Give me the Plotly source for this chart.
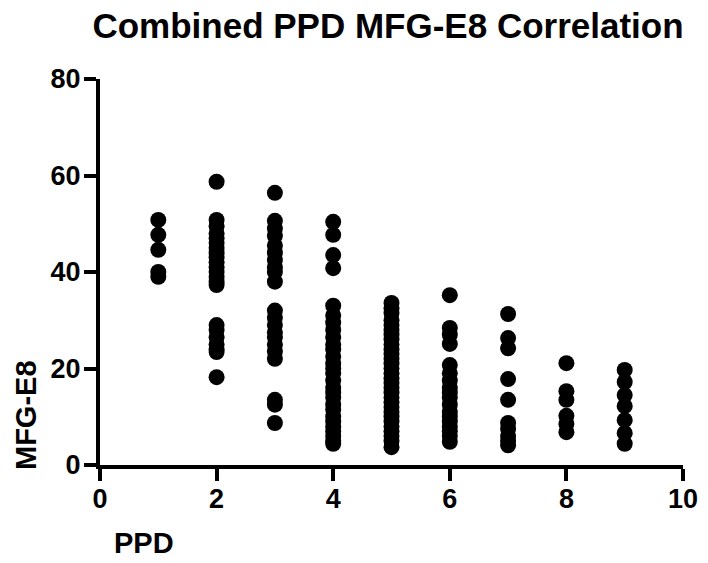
import plotly.graph_objects as go

# MFG-E8 values per PPD category
ppd_levels = [1, 2, 3, 4, 5, 6, 7, 8, 9]
mfg_ppd1 = [50.8, 47.7, 44.6, 40.0, 39.0]
mfg_ppd2 = [58.7, 50.8, 49.5, 48, 47, 46, 45, 44, 43, 42, 41, 40, 39, 38, 37.3,
            29, 28, 26.5, 25, 24, 23.4, 18.2]
mfg_ppd3 = [56.4, 50.6, 49, 47.5, 45.5, 44, 42.5, 41, 40, 38,
            32, 30.5, 29, 27.5, 26.5, 25, 23.5, 22, 13.5, 12.5, 8.7]
mfg_ppd4 = [50.4, 47.7, 43.5, 40.8, 33, 31, 29.5, 28, 26.5, 25, 24, 22.5, 21, 20,
            19, 17.5, 16, 15, 14, 12.5, 11.5, 10, 9, 8, 7, 6, 5, 4.4]
mfg_ppd5 = [33.6, 32.5, 31.5, 30, 29, 28, 27, 26, 25, 24, 23, 22, 21, 20, 19, 18,
            17, 16, 15, 14, 13, 12, 11, 10, 9, 8, 7, 6, 5, 3.7]
mfg_ppd6 = [35.2, 28.4, 27, 25.1, 20.7, 19, 17.5, 16, 15, 14, 12.5, 11, 10, 9, 8,
            7, 6, 4.8]
mfg_ppd7 = [31.3, 26.3, 24.2, 17.8, 13.5, 8.7, 7.5, 6, 5, 4.1]
mfg_ppd8 = [21.1, 15.3, 13.5, 10.2, 8.5, 6.8]
mfg_ppd9 = [19.7, 17.2, 14.5, 12.2, 9.3, 6.6, 4.4]

groups = [mfg_ppd1, mfg_ppd2, mfg_ppd3, mfg_ppd4, mfg_ppd5,
          mfg_ppd6, mfg_ppd7, mfg_ppd8, mfg_ppd9]

xs, ys = [], []
for lvl, vals in zip(ppd_levels, groups):
    xs += [lvl] * len(vals)
    ys += vals

x_ticks = [0, 2, 4, 6, 8, 10]
y_ticks = [0, 20, 40, 60, 80]

FONT = "Liberation Sans, Arial, sans-serif"
OFF = 8  # page body margin offset
W, H = 708 - OFF, 563 - OFF

fig = go.Figure(go.Scatter(
    x=xs, y=ys, mode="markers",
    marker=dict(size=16, color="black"),
    cliponaxis=False,
))

fig.update_layout(
    width=W, height=H,
    margin=dict(l=100 - OFF, r=25, t=79 - OFF, b=98, autoexpand=False),
    paper_bgcolor="white", plot_bgcolor="white",
    showlegend=False,
    title=dict(text="<b>Combined PPD MFG-E8 Correlation</b>",
               x=(388 - OFF) / W, xanchor="center", xref="container",
               y=1 - (26 - OFF) / H, yanchor="middle", yref="container",
               font=dict(family=FONT, size=35, color="black")),
    font=dict(family=FONT, color="black"),
)

common = dict(
    showgrid=False, zeroline=False, showline=True, linewidth=4, linecolor="black",
    ticks="outside", ticklen=12, tickwidth=4, tickcolor="black", automargin=False,
    tickfont=dict(family=FONT, size=27, color="black", weight="bold"),
)
fig.update_xaxes(range=[0, 10], tickvals=x_ticks, ticklabelstandoff=-5,
                 ticktext=[str(v) for v in x_ticks], **common)
fig.update_yaxes(range=[0, 80], tickvals=y_ticks, ticklabelstandoff=-2,
                 ticktext=[str(v) for v in y_ticks], **common)

fig.add_annotation(text="<b>PPD</b>", xref="paper", yref="paper",
                   x=12 / 583, y=-(543 - 465) / 386, xanchor="left", yanchor="middle",
                   showarrow=False, font=dict(family=FONT, size=29, color="black"))
fig.add_annotation(text="<b>MFG-E8</b>", xref="paper", yref="paper",
                   x=-(100 - 26) / 583, y=-(472 - 465) / 386, xanchor="center", yanchor="bottom",
                   textangle=-90, showarrow=False,
                   font=dict(family=FONT, size=29, color="black"))

fig.write_html("out.html")
